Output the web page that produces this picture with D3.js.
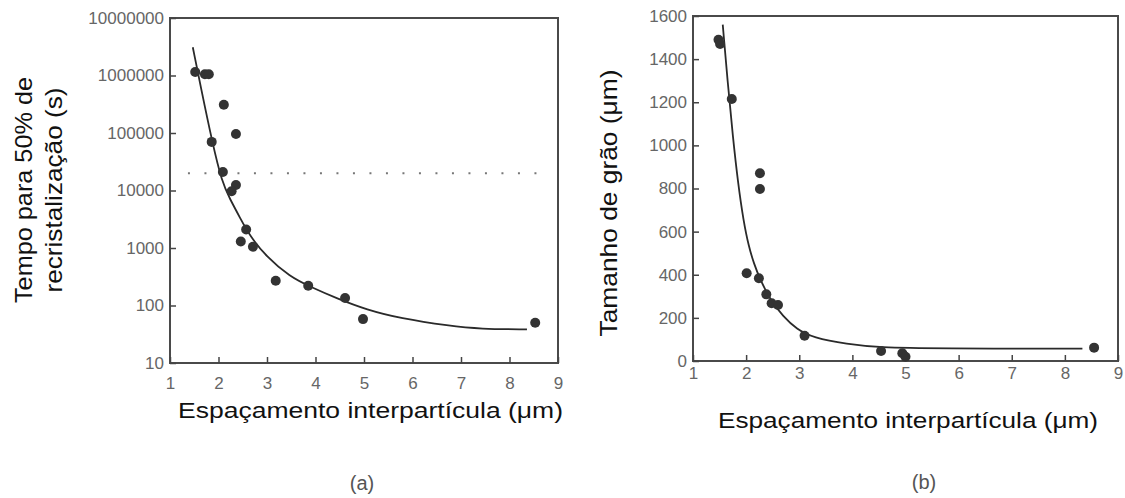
<!DOCTYPE html>
<html>
<head>
<meta charset="utf-8">
<script src="https://cdn.jsdelivr.net/npm/d3@7"></script>
<style>
  body { margin: 0; background: #fff; }
  svg { display: block; font-family: "Liberation Sans", Arial, sans-serif; }
</style>
</head>
<body>
<svg width="1125" height="498"></svg>
<script>
// (a) tempo para 50% de recristalização vs espaçamento
var pointsAX = [1.52, 1.72, 1.80, 2.11, 2.36, 1.86, 2.09, 2.36, 2.27, 2.57, 2.46, 2.71, 3.18, 3.85, 4.61, 4.98, 8.53];
var pointsAY = [1.15e6, 1.05e6, 1.05e6, 3.1e5, 9.6e4, 7.0e4, 2.1e4, 1.25e4, 9.7e3, 2.1e3, 1.3e3, 1.05e3, 270, 220, 135, 58, 50];
var curveAX = [1.47, 1.64, 1.87, 2.07, 2.24, 2.44, 2.65, 2.99, 3.47, 3.89, 4.44, 5.06, 5.74, 6.77, 7.39, 8.36];
var curveAY = [3.1e6, 6.0e5, 7.0e4, 1.4e4, 7.0e3, 3.4e3, 1.6e3, 706, 317, 212, 133, 84, 60, 44, 39, 38.5];
var thresholdA = 20000;
var thresholdSpanA = [1.37, 8.7];
var yTicksA = [10, 100, 1000, 10000, 100000, 1000000, 10000000];

// (b) tamanho de grão vs espaçamento
var pointsBX = [1.48, 1.51, 1.73, 2.26, 2.26, 2.01, 2.24, 2.38, 2.48, 2.60, 3.10, 4.54, 4.94, 5.00, 8.55];
var pointsBY = [1490, 1470, 1215, 871, 798, 407, 384, 309, 268, 260, 117, 46, 36, 20, 62];
var curveBX = [1.56, 1.65, 1.75, 1.85, 1.95, 2.05, 2.15, 2.26, 2.45, 2.70, 2.95, 3.26, 3.90, 4.50, 5.60, 8.33];
var curveBY = [1560, 1300, 1040, 820, 650, 530, 450, 380, 285, 206, 148, 108, 78, 62, 58, 57];
var yTicksB = [0, 200, 400, 600, 800, 1000, 1200, 1400, 1600];

var xTicks = [1, 2, 3, 4, 5, 6, 7, 8, 9];

var svg = d3.select("svg");

// scales
var xA = d3.scaleLinear().domain([1, 9]).range([170, 558]);
var yA = d3.scaleLog().domain([10, 1e7]).range([363, 18]);
var xB = d3.scaleLinear().domain([1, 9]).range([693, 1118]);
var yB = d3.scaleLinear().domain([0, 1600]).range([361, 16]);

function frame(x, y) {
    svg.append("rect")
        .attr("x", x.range()[0]).attr("y", y.range()[1])
        .attr("width", x.range()[1] - x.range()[0])
        .attr("height", y.range()[0] - y.range()[1])
        .attr("fill", "none").attr("stroke", "#4a4a4a").attr("stroke-width", 2);
}

function axes(x, y, ticks, xPad) {
    var gx = svg.append("g")
        .attr("transform", "translate(0," + y.range()[0] + ")")
        .call(d3.axisBottom(x).tickValues(xTicks).tickSizeInner(-6).tickSizeOuter(0).tickPadding(xPad).tickFormat(d3.format("d")));
    var gy = svg.append("g")
        .attr("transform", "translate(" + x.range()[0] + ",0)")
        .call(d3.axisLeft(y).tickValues(ticks).tickSizeInner(-6).tickSizeOuter(0).tickPadding(6).tickFormat(d3.format("d")));
    [gx, gy].forEach(function(g) {
        g.select(".domain").remove();
        g.selectAll("line").attr("stroke", "#444").attr("stroke-width", 1.5);
        g.selectAll("text").attr("fill", "#666").style("font-size", "17px").style("font-family", "Liberation Sans, Arial, sans-serif");
    });
}

frame(xA, yA);
frame(xB, yB);
axes(xA, yA, yTicksA, 14);
axes(xB, yB, yTicksB, 6);

// dotted threshold in (a)
svg.append("line")
    .attr("x1", xA(thresholdSpanA[0])).attr("x2", xA(thresholdSpanA[1]))
    .attr("y1", yA(thresholdA)).attr("y2", yA(thresholdA))
    .attr("stroke", "#777").attr("stroke-width", 2)
    .attr("stroke-dasharray", "2,14.5");

// fitted curves
var lineA = d3.line().x(function(d) { return xA(d[0]); }).y(function(d) { return yA(d[1]); }).curve(d3.curveBasis);
var lineB = d3.line().x(function(d) { return xB(d[0]); }).y(function(d) { return yB(d[1]); }).curve(d3.curveBasis);

svg.append("path")
    .datum(d3.zip(curveAX, curveAY))
    .attr("d", lineA)
    .attr("fill", "none").attr("stroke", "#2a2a2a").attr("stroke-width", 1.8);
svg.append("path")
    .datum(d3.zip(curveBX, curveBY))
    .attr("d", lineB)
    .attr("fill", "none").attr("stroke", "#2a2a2a").attr("stroke-width", 1.8);

// data points
svg.selectAll(".dotA")
    .data(d3.zip(pointsAX, pointsAY))
    .enter().append("circle")
    .attr("class", "dotA")
    .attr("cx", function(d) { return xA(d[0]); })
    .attr("cy", function(d) { return yA(d[1]); })
    .attr("r", 5)
    .attr("fill", "#333");

svg.selectAll(".dotB")
    .data(d3.zip(pointsBX, pointsBY))
    .enter().append("circle")
    .attr("class", "dotB")
    .attr("cx", function(d) { return xB(d[0]); })
    .attr("cy", function(d) { return yB(d[1]); })
    .attr("r", 5)
    .attr("fill", "#333");

// axis titles
function label(txt, x, y, size, len, rot) {
    svg.append("text")
        .attr("transform", "translate(" + x + "," + y + ")" + (rot ? " rotate(-90)" : ""))
        .attr("text-anchor", rot ? "middle" : "start")
        .attr("textLength", len).attr("lengthAdjust", "spacingAndGlyphs")
        .style("font-size", size + "px")
        .attr("fill", "#111")
        .text(txt);
}

label("Tempo para 50% de", 32, 190, 24, 226, true);
label("recristalização (s)", 62, 190, 24, 205, true);
label("Tamanho de grão (μm)", 617, 203, 24, 267, true);
label("Espaçamento interpartícula (μm)", 178, 418, 22, 385, false);
label("Espaçamento interpartícula (μm)", 718, 428, 22, 380, false);

// panel letters
svg.append("text").attr("x", 362).attr("y", 490).attr("text-anchor", "middle")
    .style("font-size", "20px").attr("fill", "#555").text("(a)");
svg.append("text").attr("x", 924).attr("y", 489).attr("text-anchor", "middle")
    .style("font-size", "20px").attr("fill", "#555").text("(b)");
</script>
</body>
</html>
